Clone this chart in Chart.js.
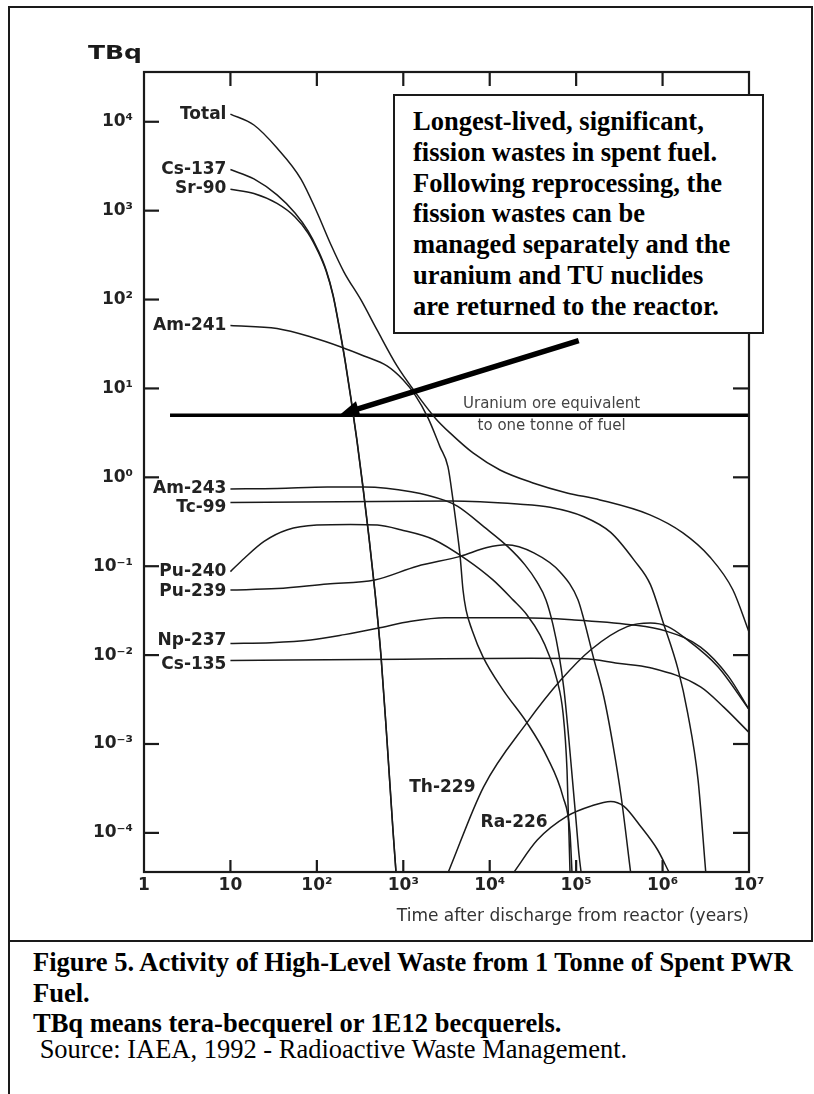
<!DOCTYPE html>
<html>
<head>
<meta charset="utf-8">
<script src="https://cdn.jsdelivr.net/npm/chart.js@4.4.1/dist/chart.umd.min.js"></script>
<style>
html,body{margin:0;padding:0;background:#fff;}
#page{position:relative;width:814px;height:1094px;overflow:hidden;background:#fff;}
#frame{position:absolute;left:8px;top:6px;width:805px;height:936px;box-sizing:border-box;border:2px solid #1a1a1a;}
#leftline{position:absolute;left:8px;top:941px;width:2px;height:153px;background:#1a1a1a;}
#cv{position:absolute;left:0;top:0;}
#tbq{position:absolute;left:88px;top:40px;font:bold 20px "DejaVu Sans";line-height:24px;color:#1a1a1a;transform-origin:0 0;transform:scaleX(1.25);white-space:nowrap;}
#note{position:absolute;left:393px;top:94px;width:371px;height:240px;box-sizing:border-box;border:2px solid #1a1a1a;background:#fff;}
.serif{font-family:"Liberation Serif","Times New Roman",serif;font-size:26.5px;color:#000;white-space:nowrap;position:absolute;line-height:30px;}
.b{font-weight:bold;}
#noteText{left:18px;top:10px;line-height:30.8px;}
</style>
</head>
<body>
<div id="page">
  <div id="frame"></div>
  <div id="leftline"></div>
  <canvas id="cv" width="814" height="941"></canvas>
  <div id="tbq">TBq</div>
  <div id="note"><div id="noteText" class="serif b">Longest-lived, significant,<br>fission wastes in spent fuel.<br>Following reprocessing, the<br>fission wastes can be<br>managed separately and the<br>uranium and TU nuclides<br>are returned to the reactor.</div></div>
  <div class="serif b" style="left:33px;top:947px;">Figure 5. Activity of High-Level Waste from 1 Tonne of Spent PWR</div>
  <div class="serif b" style="left:33px;top:978px;">Fuel.</div>
  <div class="serif b" style="left:33px;top:1008px;">TBq means tera-becquerel or 1E12 becquerels.</div>
  <div class="serif" style="left:33px;top:1034px;">&nbsp;Source: IAEA, 1992 - Radioactive Waste Management.</div>
</div>
<script>
// ---- axes ----
const xTickValues = [1, 10, 100, 1e3, 1e4, 1e5, 1e6, 1e7];
const xTickLabels = ['1', '10', '10²', '10³', '10⁴', '10⁵', '10⁶', '10⁷'];
const yTickValues = [1e-4, 1e-3, 1e-2, 1e-1, 1, 10, 100, 1e3, 1e4];
const yTickLabels = ['10⁻⁴', '10⁻³', '10⁻²', '10⁻¹', '10⁰', '10¹', '10²', '10³', '10⁴'];
const xMin = 1, xMax = 1e7;
const yMin = 3.63e-5, yMax = 3.63e4;
const xTitle = 'Time after discharge from reactor (years)';

// ---- series (years, TBq) ----
const totalYears = [10, 18.7, 34.6, 65.5, 100, 146, 206, 324, 497, 846, 1366, 2390, 3470, 6410, 13150, 31700, 78400, 188900, 715000, 1.72e6, 3.53e6, 6.52e6, 1e7];
const totalTBq   = [12200, 9200, 5070, 2270, 967, 411, 204, 99, 45.5, 17.9, 9.14, 4.54, 3.16, 1.88, 1.21, 0.865, 0.668, 0.557, 0.378, 0.237, 0.127, 0.054, 0.0182];

const cs137Years = [10, 18.7, 34.6, 55.9, 79, 103, 128, 154, 180, 212, 248, 291, 342, 401, 471, 552, 648, 760, 824];
const cs137TBq   = [2900, 2275, 1503, 941, 591, 361, 215, 113, 51.8, 20.9, 7.82, 2.64, 0.78, 0.214, 0.0514, 0.01, 0.00111, 0.000108, 0.0000364];

const sr90Years = [10, 18.7, 34.6, 55.9, 79, 103, 128, 154, 180, 212, 248, 291, 342, 401, 471, 552, 648, 760, 824];
const sr90TBq   = [1740, 1560, 1205, 849, 561, 348, 209, 110, 50.3, 20.3, 7.6, 2.56, 0.757, 0.208, 0.05, 0.0097, 0.00108, 0.000105, 0.0000354];

const am241Years = [10, 34.6, 85.5, 190, 351, 648, 993, 1366, 1932, 2660, 3290, 3760, 4180, 4530, 4910, 5320, 6240, 8360, 14250, 27000, 46000, 70500, 84900, 89500];
const am241TBq   = [51, 47.1, 37.9, 29.3, 23.2, 17.9, 12.5, 8.45, 4.66, 2.2, 1.31, 0.557, 0.256, 0.134, 0.054, 0.0322, 0.0192, 0.00955, 0.00406, 0.00173, 0.000716, 0.000254, 0.0001, 0.0000364];

const am243Years = [10, 34.7, 132, 355, 1230, 3020, 4270, 8590, 16300, 25600, 35200, 44800, 54000, 63400, 72400, 80500, 89600, 99600, 108000, 114000];
const am243TBq   = [0.74, 0.75, 0.78, 0.78, 0.69, 0.55, 0.47, 0.277, 0.165, 0.1035, 0.0666, 0.0418, 0.0219, 0.01005, 0.00406, 0.00144, 0.000449, 0.00014, 0.0000565, 0.0000364];

const tc99Years = [10, 3550, 21000, 50000, 123000, 251000, 468000, 724000, 1.02e6, 1.51e6, 1.95e6, 2.57e6, 3.16e6];
const tc99TBq   = [0.52, 0.54, 0.50, 0.46, 0.36, 0.24, 0.117, 0.062, 0.023, 0.0069, 0.00224, 0.0004, 0.000036];

const pu240Years = [10, 14.5, 24.5, 45.7, 100, 245, 501, 933, 2240, 5460, 10900, 18600, 27000, 38200, 48500, 60000, 70500, 78400, 84900];
const pu240TBq   = [0.087, 0.123, 0.19, 0.257, 0.29, 0.295, 0.29, 0.257, 0.2, 0.118, 0.0701, 0.0418, 0.0283, 0.01687, 0.01005, 0.00526, 0.00224, 0.000512, 0.0000364];

const pu239Years = [10, 34.7, 132, 468, 1450, 4570, 9300, 15500, 32400, 66000, 105000, 123000, 158000, 209000, 269000, 331000, 427000];
const pu239TBq   = [0.054, 0.056, 0.063, 0.070, 0.1, 0.129, 0.162, 0.174, 0.141, 0.085, 0.042, 0.025, 0.0095, 0.0034, 0.00093, 0.00026, 0.000036];

const np237Years = [10, 29.5, 85, 209, 501, 1230, 3020, 22400, 89000, 427000, 1.1e6, 2.75e6, 5.75e6, 1e7];
const np237TBq   = [0.0135, 0.0138, 0.0148, 0.017, 0.020, 0.024, 0.0263, 0.0263, 0.025, 0.022, 0.0186, 0.0123, 0.0058, 0.00245];

const cs135Years = [10, 1000, 30000, 123000, 302000, 724000, 2.75e6, 5.1e6, 1e7];
const cs135TBq   = [0.0087, 0.0090, 0.0092, 0.0091, 0.0081, 0.0072, 0.0044, 0.0026, 0.00135];

const th229Years = [3310, 8500, 27000, 66000, 148000, 390000, 724000, 1.15e6, 1.78e6, 4.37e6, 1e7];
const th229TBq   = [0.000036, 0.00033, 0.00174, 0.0052, 0.0115, 0.0209, 0.0229, 0.0209, 0.0158, 0.0074, 0.00245];

const ra226Years = [19000, 35500, 79400, 148000, 251000, 355000, 562000, 871000, 1.19e6];
const ra226TBq   = [0.000036, 0.000083, 0.000155, 0.0002, 0.000226, 0.0002, 0.000117, 0.000065, 0.000036];

const oreYears = [2, 1e7];
const oreTBq   = [5, 5];
const oreText = ['Uranium ore equivalent', 'to one tonne of fuel'];

const seriesList = [
  {name: 'Total',  t: totalYears, a: totalTBq},
  {name: 'Cs-137', t: cs137Years, a: cs137TBq},
  {name: 'Sr-90',  t: sr90Years,  a: sr90TBq},
  {name: 'Am-241', t: am241Years, a: am241TBq},
  {name: 'Am-243', t: am243Years, a: am243TBq},
  {name: 'Tc-99',  t: tc99Years,  a: tc99TBq},
  {name: 'Pu-240', t: pu240Years, a: pu240TBq},
  {name: 'Pu-239', t: pu239Years, a: pu239TBq},
  {name: 'Np-237', t: np237Years, a: np237TBq},
  {name: 'Cs-135', t: cs135Years, a: cs135TBq},
  {name: 'Th-229', t: th229Years, a: th229TBq},
  {name: 'Ra-226', t: ra226Years, a: ra226TBq}
];

// ---- annotation placement (style, kept apart from data) ----
const startLabelShift = {'Total':0,'Cs-137':0,'Sr-90':-1,'Am-241':0,'Am-243':0,'Tc-99':5,'Pu-240':0,'Pu-239':2,'Np-237':-3,'Cs-135':4};
const freeLabels = [{text: 'Th-229', t: 6840, a: 3.2e-4}, {text: 'Ra-226', t: 46800, a: 1.3e-4}];
const oreTextAt = 52000;
const arrowSpec = {fromT: 107000, fromA: 34.5, toT: 186, toA: 5.1};

const datasets = seriesList.map(s => ({
  label: s.name,
  data: s.t.map((t, i) => ({x: t, y: s.a[i]})),
  borderColor: '#1a1a1a',
  borderWidth: 1.5,
  pointRadius: 0,
  showLine: true,
  fill: false,
  cubicInterpolationMode: 'monotone'
}));
datasets.push({
  label: 'Uranium ore equivalent to one tonne of fuel',
  data: oreYears.map((t, i) => ({x: t, y: oreTBq[i]})),
  borderColor: '#000',
  borderWidth: 3.6,
  pointRadius: 0,
  showLine: true,
  fill: false
});

const deco = {
  id: 'deco',
  afterDatasetsDraw(chart) {
    const {ctx, chartArea: a, scales: {x, y}} = chart;
    ctx.save();
    ctx.strokeStyle = '#1a1a1a';
    ctx.fillStyle = '#1a1a1a';
    ctx.lineWidth = 2.2;
    ctx.strokeRect(a.left, a.top, a.right - a.left, a.bottom - a.top);
    const seg = (x1, y1, x2, y2) => { ctx.beginPath(); ctx.moveTo(x1, y1); ctx.lineTo(x2, y2); ctx.stroke(); };
    xTickValues.forEach(v => {
      const px = x.getPixelForValue(v);
      if (px <= a.left + 1 || px >= a.right - 1) return;
      seg(px, a.bottom, px, a.bottom - 12);
      seg(px, a.top, px, a.top + 14);
    });
    yTickValues.forEach(v => {
      const py = y.getPixelForValue(v);
      seg(a.left, py, a.left + 15, py);
      seg(a.right, py, a.right - 16, py);
    });
    ctx.font = 'bold 17px "DejaVu Sans"';
    ctx.fillStyle = '#222';
    ctx.textAlign = 'right';
    ctx.textBaseline = 'middle';
    seriesList.forEach(s => {
      if (!(s.name in startLabelShift)) return;
      const px = x.getPixelForValue(s.t[0]);
      const py = y.getPixelForValue(s.a[0]);
      ctx.fillText(s.name, px - 4, py + startLabelShift[s.name]);
    });
    freeLabels.forEach(l => {
      ctx.fillText(l.text, x.getPixelForValue(l.t), y.getPixelForValue(l.a));
    });
    const oy = y.getPixelForValue(oreTBq[0]);
    const ox = x.getPixelForValue(oreTextAt);
    ctx.font = '15px "DejaVu Sans"';
    ctx.fillStyle = '#444';
    ctx.textAlign = 'center';
    ctx.fillText(oreText[0], ox, oy - 11);
    ctx.fillText(oreText[1], ox, oy + 11);
    const p1 = {x: x.getPixelForValue(arrowSpec.fromT), y: y.getPixelForValue(arrowSpec.fromA)};
    const p2 = {x: x.getPixelForValue(arrowSpec.toT), y: y.getPixelForValue(arrowSpec.toA)};
    const ang = Math.atan2(p2.y - p1.y, p2.x - p1.x);
    const hl = 19, hw = 8;
    const bx = p2.x - hl * Math.cos(ang), by = p2.y - hl * Math.sin(ang);
    ctx.strokeStyle = '#000'; ctx.fillStyle = '#000';
    ctx.lineWidth = 5.5;
    seg(p1.x, p1.y, bx + 2 * Math.cos(ang), by + 2 * Math.sin(ang));
    ctx.beginPath();
    ctx.moveTo(p2.x, p2.y);
    ctx.lineTo(bx + hw * Math.sin(ang), by - hw * Math.cos(ang));
    ctx.lineTo(bx - hw * Math.sin(ang), by + hw * Math.cos(ang));
    ctx.closePath();
    ctx.fill();
    ctx.restore();
  }
};

new Chart(document.getElementById('cv'), {
  type: 'scatter',
  data: {datasets},
  options: {
    responsive: false,
    animation: false,
    events: [],
    layout: {padding: {left: 0, right: 65, top: 72, bottom: 0}},
    plugins: {legend: {display: false}, tooltip: {enabled: false}},
    scales: {
      x: {
        type: 'logarithmic',
        min: xMin, max: xMax,
        bounds: 'data',
        grid: {display: false, drawTicks: false},
        border: {display: false},
        afterBuildTicks: s => { s.ticks = xTickValues.map(v => ({value: v})); },
        afterFit: s => { s.height = 69; },
        ticks: {
          autoSkip: false, maxRotation: 0, padding: 3,
          color: '#222',
          font: {family: 'DejaVu Sans', size: 17, weight: 'bold'},
          callback: (v, i) => xTickLabels[i]
        },
        title: {
          display: true, text: xTitle, align: 'end',
          color: '#333', font: {family: 'DejaVu Sans', size: 17},
          padding: {top: 0, bottom: 14}
        }
      },
      y: {
        type: 'logarithmic',
        min: yMin, max: yMax,
        bounds: 'data',
        grid: {display: false, drawTicks: false},
        border: {display: false},
        afterBuildTicks: s => { s.ticks = yTickValues.map(v => ({value: v})); },
        afterFit: s => { s.width = 144; },
        ticks: {
          autoSkip: false, padding: 11,
          color: '#222',
          font: {family: 'DejaVu Sans', size: 17, weight: 'bold'},
          callback: (v, i) => yTickLabels[i]
        }
      }
    }
  },
  plugins: [deco]
});
</script>
</body>
</html>
